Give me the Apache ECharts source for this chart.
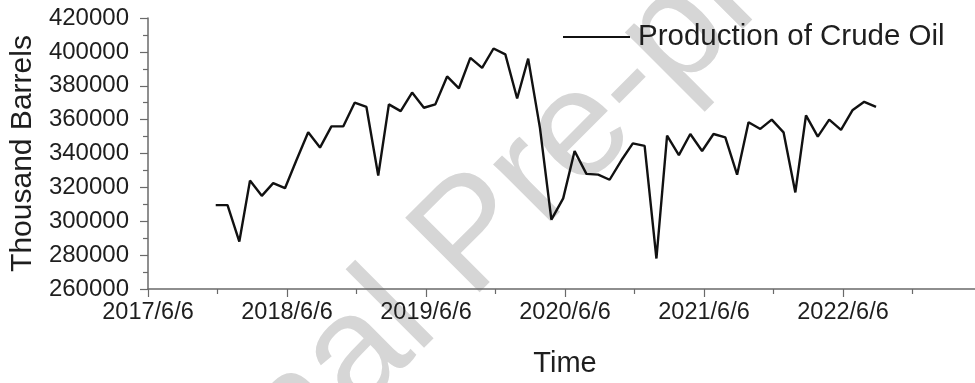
<!DOCTYPE html>
<html>
<head>
<meta charset="utf-8">
<script src="https://cdn.jsdelivr.net/npm/echarts@6/dist/echarts.min.js"></script>
<style>
  html, body { margin: 0; padding: 0; background: #fff; overflow: hidden; }
  #chart { width: 982px; height: 383px; }
</style>
</head>
<body>
<div id="chart"></div>
<script>
// Monthly crude oil production (thousand barrels)
const months = [
  '2017-12',
  '2018-01','2018-02','2018-03','2018-04','2018-05','2018-06',
  '2018-07','2018-08','2018-09','2018-10','2018-11','2018-12',
  '2019-01','2019-02','2019-03','2019-04','2019-05','2019-06',
  '2019-07','2019-08','2019-09','2019-10','2019-11','2019-12',
  '2020-01','2020-02','2020-03','2020-04','2020-05','2020-06',
  '2020-07','2020-08','2020-09','2020-10','2020-11','2020-12',
  '2021-01','2021-02','2021-03','2021-04','2021-05','2021-06',
  '2021-07','2021-08','2021-09','2021-10','2021-11','2021-12',
  '2022-01','2022-02','2022-03','2022-04','2022-05','2022-06',
  '2022-07','2022-08','2022-09'
];
const production = [
  309500,
  309500, 288000, 324000, 315000, 322500, 319500,
  336000, 352500, 343500, 356000, 356000, 370000,
  367500, 327000, 369000, 365000, 376000, 367000,
  369000, 385500, 378500, 396500, 390500, 402000,
  398500, 372500, 396000, 355000, 301000, 313500,
  341500, 328000, 327500, 324500, 336000, 346000,
  344500, 278000, 350500, 339000, 351500, 341500,
  351500, 349500, 327500, 358500, 354500, 360000,
  352500, 317000, 362500, 350000, 360000, 354000,
  365500, 370500, 367500
];
// Time axis labels, one per year starting at the axis origin
const xTickLabels = ['2017/6/6', '2018/6/6', '2019/6/6', '2020/6/6', '2021/6/6', '2022/6/6', '2023/6/6'];
const yMin = 260000, yMax = 420000, yStep = 20000;

// x values are measured in years since 2017/6/6
const ORIGIN = Date.UTC(2017, 5, 6);
const YEAR_MS = 365.25 * 24 * 3600 * 1000;
function yearsSinceOrigin(ym) {
  const [y, m] = ym.split('-').map(Number);
  return (Date.UTC(y, m - 1, 1) - ORIGIN) / YEAR_MS;
}

const FONT = '"Liberation Sans", Arial, sans-serif';
const axisColor = '#6a6a6a';
const textColor = '#1e1e1e';

const chart = echarts.init(document.getElementById('chart'), null, { renderer: 'canvas' });
chart.setOption({
  animation: false,
  backgroundColor: '#fff',
  textStyle: { fontFamily: FONT },
  grid: { left: 147, right: 0, top: 18, bottom: 92, containLabel: false },
  legend: {
    left: 563, top: 22, padding: 0,
    itemWidth: 67, itemHeight: 14, itemGap: 10,
    icon: 'path://M0,6 L67,6 L67,8 L0,8 Z',
    textStyle: { fontFamily: FONT, fontSize: 29.5, color: textColor, padding: [0, 0, 0, 3] },
    data: [{ name: 'Production of Crude Oil', itemStyle: { color: '#111' } }]
  },
  // Diagonal "Journal Pre-proof" watermark behind the plot
  graphic: [{
    type: 'text',
    x: 56, y: 656,
    rotation: Math.PI / 4,
    z: -10,
    silent: true,
    style: {
      text: 'Journal Pre-proof',
      font: '153px "Liberation Sans", Arial, sans-serif',
      fill: '#d6d6d6',
      align: 'left',
      verticalAlign: 'middle'
    }
  }],
  xAxis: {
    type: 'value',
    min: 0, max: 6, interval: 1,
    name: 'Time',
    nameLocation: 'middle',
    nameGap: 60,
    nameTextStyle: { fontFamily: FONT, fontSize: 29, color: textColor },
    axisLine: { show: true, lineStyle: { color: axisColor, width: 1.5 } },
    axisTick: { show: true, inside: false, length: 8, lineStyle: { color: axisColor, width: 1.2 } },
    minorTick: { show: true, splitNumber: 2, length: 5, lineStyle: { color: axisColor, width: 1.2 } },
    splitLine: { show: false },
    minorSplitLine: { show: false },
    axisLabel: {
      fontFamily: FONT, fontSize: 23.5, color: textColor, margin: 12,
      showMaxLabel: false,
      formatter: v => xTickLabels[Math.round(v)] || ''
    }
  },
  yAxis: {
    type: 'value',
    min: yMin, max: yMax, interval: yStep,
    name: 'Thousand Barrels',
    nameLocation: 'middle',
    nameGap: 102,
    nameRotate: 90,
    nameTextStyle: { fontFamily: FONT, fontSize: 30, color: textColor },
    axisLine: { show: true, lineStyle: { color: axisColor, width: 1.5 } },
    axisTick: { show: true, inside: false, length: 8, lineStyle: { color: axisColor, width: 1.2 } },
    minorTick: { show: true, splitNumber: 2, length: 5, lineStyle: { color: axisColor, width: 1.2 } },
    splitLine: { show: false },
    minorSplitLine: { show: false },
    axisLabel: {
      fontFamily: FONT, fontSize: 24, color: textColor, margin: 19,
      formatter: v => String(v)
    }
  },
  series: [{
    name: 'Production of Crude Oil',
    type: 'line',
    symbol: 'none',
    smooth: false,
    lineStyle: { color: '#111', width: 2.4 },
    itemStyle: { color: '#111' },
    z: 5,
    data: months.map((m, i) => [yearsSinceOrigin(m), production[i]])
  }]
});
</script>
</body>
</html>
